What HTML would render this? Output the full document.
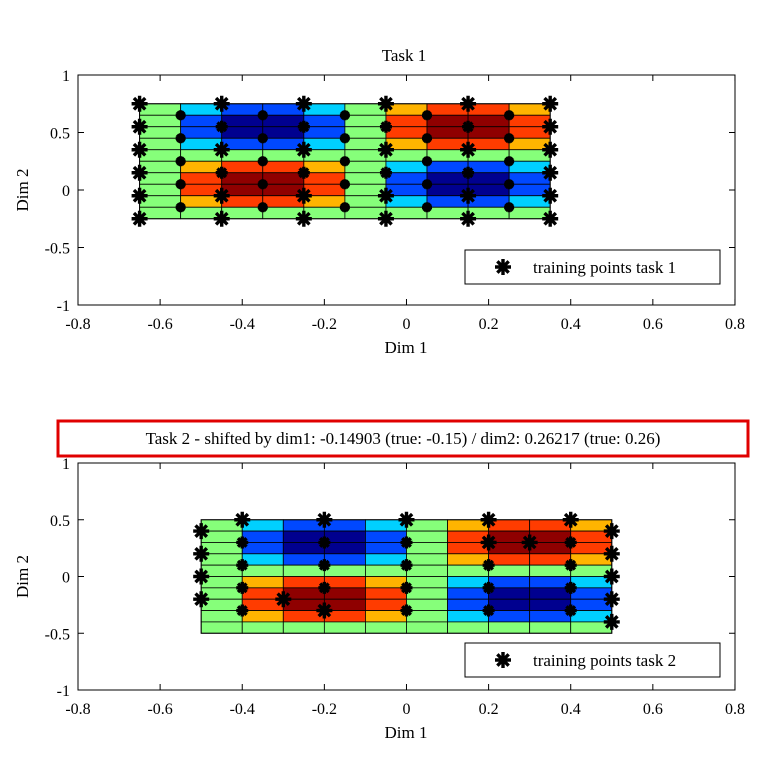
<!DOCTYPE html>
<html><head><meta charset="utf-8"><style>
html,body{margin:0;padding:0;background:#fff;}
svg{display:block;font-family:"Liberation Serif",serif;}
</style></head><body>
<svg id="s" width="768" height="768" xmlns="http://www.w3.org/2000/svg"></svg>
<script>
const s=document.getElementById('s');
let h='';
const C={n:'#00008f',b:'#0048ff',c:'#00d0ff',g:'#86ff7a',o:'#ffb400',r:'#ff3c00',d:'#8f0000'};
const rowsA=[['c','b'],['b','n'],['b','n'],['c','b'],['g','g'],['o','r'],['r','d'],['r','d'],['o','r'],['g','g']];
const rowsB=[['o','r'],['r','d'],['r','d'],['o','r'],['g','g'],['c','b'],['b','n'],['b','n'],['c','b'],['g','g']];
function star(x,y,r){let p='';for(let i=0;i<4;i++){const a=i*Math.PI/4;p+=`M${x-r*Math.cos(a)},${y-r*Math.sin(a)}L${x+r*Math.cos(a)},${y+r*Math.sin(a)}`;}return `<path d="${p}" stroke="#000" stroke-width="3.4" fill="none"/>`;}
function plot(top,bot,x0,y0,title,leg,stars){
 const X=v=>78+(v+0.8)*410.6, y1=(top+bot)/2, Y=v=>y1-v*(bot-top)/2;
 const cw=41.06, rh=(bot-top)/20;
 for(let r=0;r<10;r++)for(let c=0;c<10;c++){
  let col='g';
  if(c>=1&&c<=4){col=rowsA[r][(c==1||c==4)?0:1];}
  if(c>=6&&c<=9){col=rowsB[r][(c==6||c==9)?0:1];}
  h+=`<rect x="${X(x0)+c*cw}" y="${Y(y0)+r*rh}" width="${cw}" height="${rh}" fill="${C[col]}" stroke="#000" stroke-width="0.8"/>`;
 }
 h+=`<rect x="${X(x0)}" y="${Y(y0)}" width="${10*cw}" height="${10*rh}" fill="none" stroke="#000" stroke-width="1"/>`;
 stars.forEach(p=>h+=star(X(p[0]),Y(p[1]),p[2]||8));
 h+=`<rect x="78" y="${top}" width="657" height="${bot-top}" fill="none" stroke="#000" stroke-width="1"/>`;
 for(let i=0;i<=8;i++){const v=-0.8+i*0.2,x=X(v);h+=`<line x1="${x}" y1="${bot}" x2="${x}" y2="${bot-6}" stroke="#000"/><line x1="${x}" y1="${top}" x2="${x}" y2="${top+6}" stroke="#000"/>`;
  let t=Math.abs(v)<1e-9?'0':(Math.round(v*10)/10).toString();h+=`<text x="${x}" y="${bot+24}" font-size="16" text-anchor="middle">${t}</text>`;}
 for(let i=0;i<=4;i++){const v=-1+i*0.5,y=Y(v);h+=`<line x1="78" y1="${y}" x2="84" y2="${y}" stroke="#000"/><line x1="735" y1="${y}" x2="729" y2="${y}" stroke="#000"/>`;
  let t=v==0?'0':v.toString();h+=`<text x="70" y="${y+6}" font-size="16" text-anchor="end">${t}</text>`;}
 h+=`<text x="406" y="${bot+48}" font-size="17" text-anchor="middle">Dim 1</text>`;
 h+=`<text x="0" y="0" font-size="17" text-anchor="middle" transform="translate(28,${y1}) rotate(-90)">Dim 2</text>`;
 h+=title;
 h+=`<rect x="465" y="${leg}" width="255" height="34" fill="#fff" stroke="#000"/>`+star(503,leg+17,8)+`<text x="533" y="${leg+23}" font-size="17">training points task ${top<200?1:2}</text>`;
}
let st1=[];
[-0.65,-0.45,-0.25,-0.05,0.15,0.35].forEach(x=>[0.75,0.55,0.35,0.15,-0.05,-0.25].forEach((y,j)=>{ if(x==-0.65||x==0.35||y==0.75||y==-0.25||j%2==0) st1.push([x,y,8]); else st1.push([x,y,6]);}));
[-0.55,-0.35,-0.15,0.05,0.25].forEach(x=>[0.65,0.45,0.25,0.05,-0.15].forEach(y=>st1.push([x,y,5])));
plot(75,305,-0.65,0.75,`<text x="404" y="61" font-size="17" text-anchor="middle">Task 1</text>`,250,st1);
let st2=[];
[-0.4,-0.2,0,0.2,0.4].forEach(x=>[0.5,0.3,0.1,-0.1,-0.3].forEach((y,j)=>st2.push([x,y,y==0.5?8:6])));
[0.4,0.2,0,-0.2].forEach(y=>st2.push([-0.5,y,8]));
[0.4,0.2,0,-0.2,-0.4].forEach(y=>st2.push([0.5,y,8]));
[[-0.3,-0.2],[-0.2,-0.3],[0.3,0.3],[0.2,0.3]].forEach(p=>st2.push([p[0],p[1],8]));
plot(463,690,-0.5,0.5,`<rect x="58" y="421" width="690" height="35" fill="#fff" stroke="#e00000" stroke-width="3"/><text x="403" y="444" font-size="17" text-anchor="middle">Task 2 - shifted by dim1: -0.14903 (true: -0.15) / dim2: 0.26217 (true: 0.26)</text>`,643,st2);
s.innerHTML=h;
</script>
</body></html>
